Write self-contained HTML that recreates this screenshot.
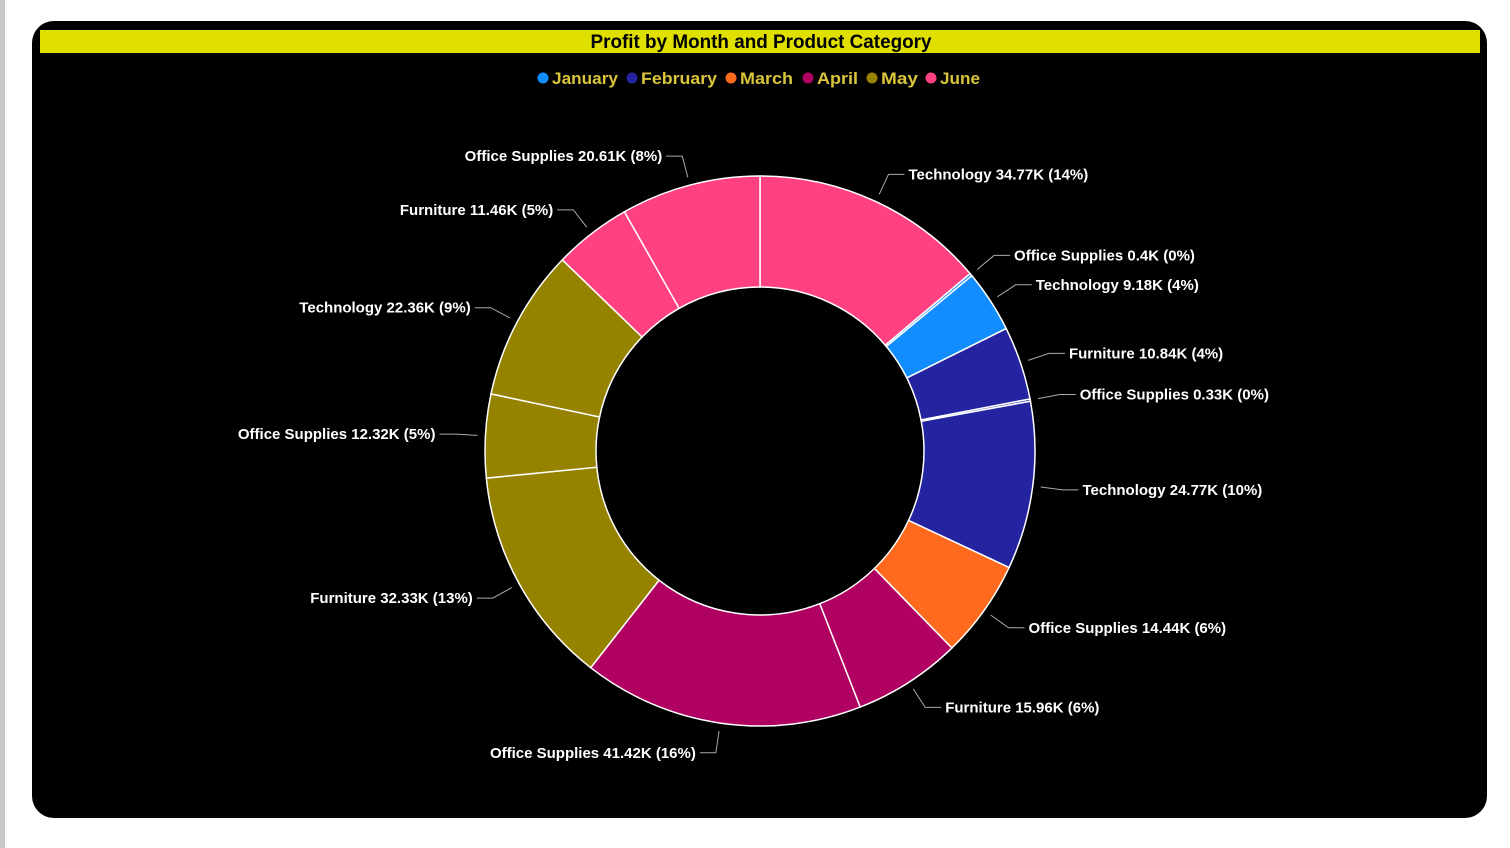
<!DOCTYPE html>
<html><head><meta charset="utf-8"><style>
html,body{margin:0;padding:0;background:#fff;width:1510px;height:848px;overflow:hidden}
svg{display:block;font-family:"Liberation Sans",sans-serif}
</style></head><body>
<svg id="chart" width="1510" height="848">
<rect x="0" y="0" width="5" height="848" fill="#c8c8c8"/>
<rect x="32" y="21" width="1455" height="797" rx="22" fill="#000"/>
<rect x="40" y="30" width="1440" height="23" fill="#e0e000"/>
<text x="761" y="48" text-anchor="middle" font-size="19" font-weight="bold" fill="#000" textLength="341" lengthAdjust="spacingAndGlyphs">Profit by Month and Product Category</text>
<g id="legend"></g>
<g id="slices"></g>
<g id="labels"></g>
</svg>
<script>
const months = ["January","February","March","April","May","June"];
const monthColors = ["#118dff","#2424a0","#ff6a1f","#b00062","#958300","#ff4182"];
// slices in clockwise order starting at 12 o'clock
const sliceMonth = [5,0,0,1,1,1,2,3,3,4,4,4,5,5];
const sliceCategory = ["Technology","Office Supplies","Technology","Furniture","Office Supplies","Technology","Office Supplies","Furniture","Office Supplies","Furniture","Office Supplies","Technology","Furniture","Office Supplies"];
const sliceValues = [34.77,0.4,9.18,10.84,0.33,24.77,14.44,15.96,41.42,32.33,12.32,22.36,11.46,20.61];

const NS="http://www.w3.org/2000/svg";
function mk(tag,attrs,parent){const e=document.createElementNS(NS,tag);for(const k in attrs)e.setAttribute(k,attrs[k]);parent.appendChild(e);return e;}

const lg=document.getElementById('legend');
const legX=[543,632,731,808,872,931], legW=[66,76,53,41,37,40];
months.forEach((m,i)=>{
  const c=mk('circle',{cx:legX[i],cy:78,r:5.5,fill:monthColors[i]},lg);
  
  
  const t=mk('text',{x:legX[i]+9,y:84,'font-size':17,'font-weight':'bold',fill:'#d9c43a',textLength:legW[i],lengthAdjust:'spacingAndGlyphs'},lg);
  t.textContent=m;
  
  
});

const cx=760, cy=451, R=275, r=164;
const total=sliceValues.reduce((a,b)=>a+b,0);
function pt(a,rad){return [cx+rad*Math.sin(a), cy-rad*Math.cos(a)];}
const sg=document.getElementById('slices'), lb=document.getElementById('labels');
let acc=0;
const labs=[];
sliceValues.forEach((v,i)=>{
  const a0=acc/total*2*Math.PI; acc+=v; const a1=acc/total*2*Math.PI;
  const large=(a1-a0)>Math.PI?1:0;
  const p0=pt(a0,R),p1=pt(a1,R),q1=pt(a1,r),q0=pt(a0,r);
  const d=`M${p0[0]},${p0[1]} A${R},${R} 0 ${large} 1 ${p1[0]},${p1[1]} L${q1[0]},${q1[1]} A${r},${r} 0 ${large} 0 ${q0[0]},${q0[1]} Z`;
  const p=mk('path',{d:d,fill:monthColors[sliceMonth[i]],stroke:'#fff','stroke-width':1.5},sg);
  
  
  const am=(a0+a1)/2;
  const s=pt(am,R+8), e=pt(am,R+30);
  labs.push({i,am,s,e,right:Math.sin(am)>=0,y:e[1],v});
});
[true,false].forEach(side=>{
  const L=labs.filter(l=>l.right===side).sort((a,b)=>a.y-b.y);
  for(let k=1;k<L.length;k++){ if(L[k].y-L[k-1].y<28) L[k].y=L[k-1].y+28; }
});
labs.forEach(l=>{
  const pct=Math.round(l.v/total*100);
  const dir=l.right?1:-1;
  const ex=l.e[0], ey=l.y;
  const hx=ex+dir*16;
  const ln=mk('polyline',{points:`${l.s[0]},${l.s[1]} ${ex},${ey} ${hx},${ey}`,fill:'none',stroke:'#aaa','stroke-width':1},lb);
  
  
  const t=mk('text',{x:hx+dir*4,y:ey+5,'font-size':15,'font-weight':'bold',fill:'#fff','text-anchor':l.right?'start':'end'},lb);
  t.textContent=`${sliceCategory[l.i]} ${l.v}K (${pct}%)`;
  
  
});
</script>
</body></html>
